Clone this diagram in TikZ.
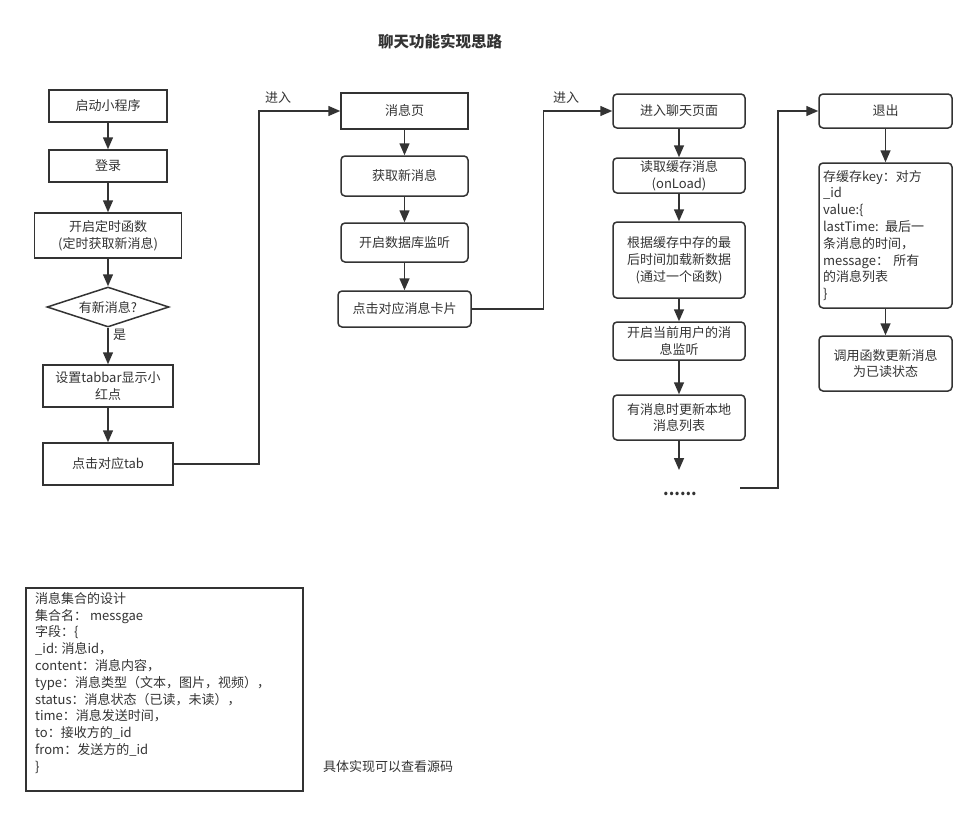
\documentclass[tikz,border=0pt]{standalone}
\usepackage{fontspec}
\setmainfont{Noto Sans CJK SC}
\usetikzlibrary{arrows.meta,shapes.geometric}
\definecolor{ink}{HTML}{333333}
\begin{document}
\begin{tikzpicture}[x=1pt,y=-1pt,
  every node/.style={text=ink,font=\fontsize{13}{16.8}\selectfont},
  sq/.style={draw=ink,line width=1.5pt,rectangle,inner sep=0pt,align=center},
  rd/.style={sq,rounded corners=4pt},
  arr/.style={draw=ink,line width=1.5pt,-{Triangle[length=12pt,width=10pt]}},
  ln/.style={draw=ink,line width=1.5pt}]
\useasboundingbox (0,0) rectangle (976,816);
% title
\node[font=\fontsize{15.5}{18}\selectfont\bfseries] (title) at (440,42) {聊天功能实现思路};
% left column
\node[sq,minimum width=118,minimum height=32] (n1) at (108,106) {启动小程序};
\node[sq,minimum width=118,minimum height=32] (n2) at (108,166) {登录};
\node[sq,minimum width=147,minimum height=45] (n3) at (108,235.5) {开启定时函数\\(定时获取新消息)};
\node[draw=ink,line width=1.5pt,diamond,aspect=3,inner sep=0pt,minimum width=122,minimum height=40] (d) at (108,307) {有新消息?};
\node[sq,minimum width=130,minimum height=42] (n5) at (108,386) {设置tabbar显示小\\红点};
\node[sq,minimum width=130,minimum height=42] (n6) at (108,464) {点击对应tab};
\draw[arr] (n1) -- (n2);
\draw[arr] (n2) -- (n3);
\draw[arr] (n3) -- (d);
\draw[arr] (d) -- node[pos=0.2,right=1pt] (yes) {是} (n5);
\draw[arr] (n5) -- (n6);
% middle column
\node[sq,minimum width=127,minimum height=36] (m1) at (404.5,111) {消息页};
\node[rd,minimum width=127,minimum height=40] (m2) at (404.5,176) {获取新消息};
\node[rd,minimum width=127,minimum height=39] (m3) at (404.5,242.5) {开启数据库监听};
\node[rd,minimum width=133,minimum height=36] (m4) at (404.5,309) {点击对应消息卡片};
\draw[arr] (n6.east) -- ++(85,0) |- (m1.west);
\node (in1) at (278,98) {进入};
\draw[arr] (m1) -- (m2);
\draw[arr] (m2) -- (m3);
\draw[arr] (m3) -- (m4);
% right column
\node[rd,minimum width=132,minimum height=34] (r1) at (679,111) {进入聊天页面};
\node[rd,minimum width=132,minimum height=35] (r2) at (679,175.5) {读取缓存消息\\(onLoad)};
\node[rd,minimum width=132,minimum height=76] (r3) at (679,260) {根据缓存中存的最\\后时间加载新数据\\(通过一个函数)};
\node[rd,minimum width=132,minimum height=38] (r4) at (679,341) {开启当前用户的消\\息监听};
\node[rd,minimum width=132,minimum height=45] (r5) at (679,417.5) {有消息时更新本地\\消息列表};
\coordinate (rend) at (679,470);
\node[font=\fontsize{16}{18}\selectfont\bfseries] (dots) at (680,494) {......};
\draw[arr] (m4.east) -- ++(71.5,0) |- (r1.west);
\node (in2) at (566,98) {进入};
\draw[arr] (r1) -- (r2);
\draw[arr] (r2) -- (r3);
\draw[arr] (r3) -- (r4);
\draw[arr] (r4) -- (r5);
\draw[arr] (r5) -- (rend);
% far right column
\node[rd,minimum width=133,minimum height=145,text width=125,inner sep=4pt,align=left] (e2) at (885.5,235.5) {存缓存key：对方\\\_id\\value:\{\\lastTime: 最后一\\条消息的时间，\\message：  所有\\的消息列表\\\}};
\node[rd,minimum width=133,minimum height=34] (e1) at (885.5,111) {退出};
\node[rd,minimum width=133,minimum height=55] (e3) at (885.5,363.5) {调用函数更新消息\\为已读状态};
\coordinate (c1) at (740,488);
\draw[arr] (c1) -- (778,488) |- (e1.west);
\draw[arr] (e1) -- (e2);
\draw[arr] (e2) -- (e3);
% bottom box
\node[draw=ink,line width=1.5pt,rectangle,inner sep=0pt,minimum width=277,minimum height=203,anchor=north west] (b) at (25,587) {};
\node[anchor=north west,align=left,inner sep=0pt] (bt) at (35,592) {消息集合的设计\\集合名： messgae\\字段：\{\\\_id: 消息id，\\content：消息内容，\\type：消息类型（文本，图片，视频），\\status：消息状态（已读，未读），\\time：消息发送时间，\\to：接收方的\_id\\from：发送方的\_id\\\}};
\node (note) at (388,767) {具体实现可以查看源码};
\end{tikzpicture}
\end{document}
